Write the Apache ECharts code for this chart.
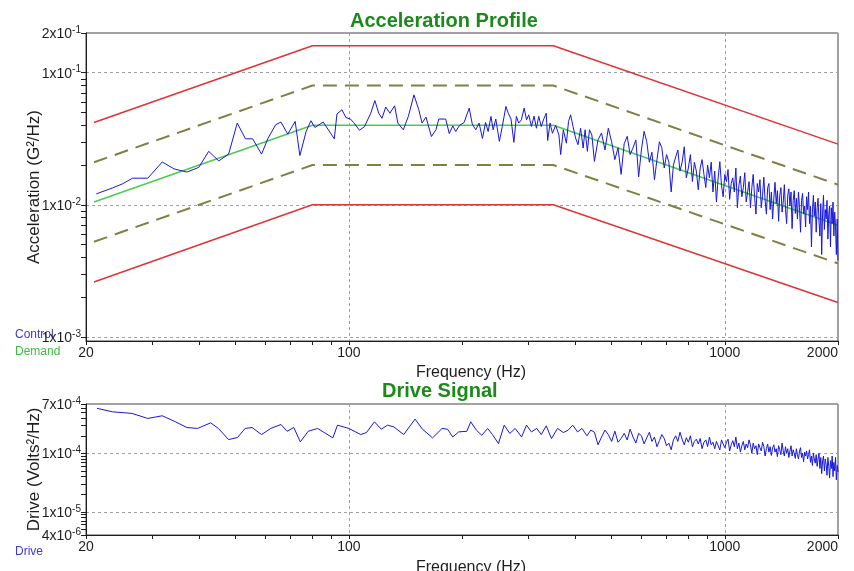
<!DOCTYPE html>
<html><head><meta charset="utf-8">
<script src="https://cdn.jsdelivr.net/npm/echarts@6.0.0/dist/echarts.min.js"></script>
<style>html,body{margin:0;padding:0;background:#fff}#c{width:854px;height:571px}</style>
</head><body><div id="c"></div>
<script>
// ---- profile breakpoints (Hz) and limit lines (G²/Hz) ----
const profileFreq = [21, 80, 350, 2000];
const demand      = [0.0105, 0.04, 0.04, 0.007];
const alarmHigh   = [0.021, 0.08, 0.08, 0.0142];
const alarmLow    = [0.00525, 0.02, 0.02, 0.0036];
const abortHigh   = [0.042, 0.16, 0.16, 0.0288];
const abortLow    = [0.0026, 0.01, 0.01, 0.00182];

// ---- control spectrum, low range ----
const controlFreqLow = [21.3,23.5,25.0,26.6,29.2,31.9,34.3,37.1,39.9,42.4,45.1,47.9,50.5,53.1,55.5,58.6,61.0,63.9,66.0,68.8,
  72.0,74.1,77.0,79.3,81.2,85.5,91.5,93.0,95.9,98.2,101,103,106.7,110,114.4,117.3,120.1,122.5,125.4,128.6,
  132.4,135,139.6,144,149,153.5,156.6,160.4,165.8,170.5,173.5,181,185,189,192.5,197,202.6,209,213,217.6,
  222,226.7,231,234.7,238.8,242,246,251.4,256,261.7,265.5,270,274.8,279,283,287.7,292.6,297,301,306,
  311,315.5,320,325,330,335,338,343,348,355,362,366,372,379,384,389,394.7,401,407,413.5,
  420,425,431,436.5,443];
const controlLow = [.0121,.0134,.0144,.0159,.0159,.0211,.0187,.0177,.0192,.0254,.0215,.0242,.0416,.0316,.0316,.0242,.032,.0404,.0423,.0343,
  .0428,.0236,.0359,.0433,.0385,.0423,.0316,.0487,.0525,.0458,.0446,.042,.0367,.039,.0494,.0616,.0494,.0452,.055,.0494,
  .0562,.0416,.037,.0467,.068,.0525,.0416,.0462,.0329,.037,.0446,.0446,.0346,.0396,.0359,.040,.042,.054,.0408,.037,
  .0416,.0318,.042,.0359,.0467,.037,.0446,.0302,.0392,.0556,.0494,.0446,.0297,.0467,.0416,.044,.054,.044,.048,.0392,
  .047,.038,.0467,.0392,.0446,.0494,.0307,.0416,.0348,.040,.0338,.024,.037,.0293,.0428,.048,.0392,.032,.0285,.038,
  .0269,.037,.0254,.037,.0338];

// ---- shared high-range frequency lines (Hz) ----
const freqHigh = [450,460,470,480,490,500,510,520,530,540,
  550,560,570,580,590,600,610,620,630,640,
  650,660,670,680,690,700,710,720,730,740,
  750,760,770,780,790,800,810,820,830,840,
  850,860,870,880,890,900,910,920,930,940,
  950,960,970,980,990,1000,1010,1020,1030,1040,
  1050,1060,1070,1080,1090,1100,1110,1120,1130,1140,
  1150,1160,1170,1180,1190,1200,1210,1220,1230,1240,
  1250,1260,1270,1280,1290,1300,1310,1320,1330,1340,
  1350,1360,1370,1380,1390,1400,1410,1420,1430,1440,
  1450,1460,1470,1480,1490,1500,1510,1520,1530,1540,
  1550,1560,1570,1580,1590,1600,1610,1620,1630,1640,
  1650,1660,1670,1680,1690,1700,1710,1720,1730,1740,
  1750,1760,1770,1780,1790,1800,1810,1820,1830,1840,
  1850,1860,1870,1880,1890,1900,1910,1920,1930,1940,
  1950,1960,1970,1980,1990,2000];
const controlHigh = [.0213,.031,.035,.026,.038,.030,.022,.027,.017,.029,
  .033,.024,.027,.031,.0163,.026,.036,.030,.021,.025,
  .0155,.022,.030,.027,.019,.024,.021,.0125,.020,.023,
  .026,.018,.021,.0275,.016,.019,.024,.015,.021,.018,
  .013,.019,.022,.017,.0135,.020,.016,.021,.0125,.018,
  .0105,.016,.0212,.014,.0115,.017,.015,.0185,.011,.0145,
  .016,.0125,.019,.0095,.014,.0165,.0115,.0135,.0175,.0105,
  .0125,.015,.0095,.0135,.017,.0115,.0085,.0145,.0125,.0155,
  .0095,.0118,.0162,.0108,.0085,.0135,.0145,.0092,.0125,.0078,
  .0112,.0148,.0102,.0128,.0075,.0118,.0135,.0088,.0105,.0142,
  .0092,.0072,.0118,.0132,.0098,.0125,.0066,.0108,.0128,.0086,
  .0112,.0078,.0125,.0095,.0062,.0108,.0122,.0085,.0098,.0068,
  .0115,.0092,.0125,.0072,.0098,.0048,.0088,.0118,.0082,.0105,
  .0062,.0095,.0112,.0075,.0058,.0102,.0042,.0088,.0118,.0065,
  .0092,.0078,.0108,.0055,.0085,.0098,.0048,.0095,.0072,.0105,
  .0058,.0088,.0068,.0042,.0078,.0038];

// ---- drive spectrum (Volts²/Hz) ----
const driveFreqLow = [21.4,23.5,26.5,29.2,31.9,34.6,37.1,39.6,42.9,45.0,47.9,50.6,53.0,55.3,58.6,62.0,66.0,68.5,71.4,74.3,
  78.0,82.6,85.5,90.7,93.3,100,107.6,111.4,117,122,126.8,131.7,140,150,157,167,177,183,189,196,
  206,211,218.5,225.8,234,241,250,259,268,277,288,297,306,316,325,335,346,359,372,383,
  394,406,417,430,440];
const driveLow = [5.9e-4,5.15e-4,4.83e-4,3.96e-4,4.4e-4,3.47e-4,2.77e-4,2.67e-4,3.33e-4,2.67e-4,1.72e-4,1.87e-4,2.67e-4,2.77e-4,2.10e-4,2.67e-4,3.12e-4,2.39e-4,2.77e-4,1.57e-4,
  2.39e-4,2.67e-4,2.33e-4,1.84e-4,3.04e-4,2.67e-4,2.10e-4,2.27e-4,3.47e-4,2.59e-4,3.04e-4,2.84e-4,2.10e-4,3.86e-4,2.59e-4,1.84e-4,2.67e-4,2.59e-4,1.91e-4,2.33e-4,
  2.39e-4,3.47e-4,2.49e-4,2.04e-4,2.67e-4,2.10e-4,1.47e-4,3.04e-4,2.19e-4,2.67e-4,1.91e-4,3.04e-4,2.33e-4,2.67e-4,2.10e-4,2.96e-4,1.79e-4,2.67e-4,2.27e-4,2.49e-4,
  3.04e-4,2.33e-4,2.67e-4,2.0e-4,2.5e-4];
const driveHigh = [2.3e-4,1.4e-4,1.9e-4,2.5e-4,2.1e-4,1.6e-4,2.4e-4,1.55e-4,1.8e-4,2.2e-4,
  1.7e-4,2.6e-4,1.9e-4,1.5e-4,2.2e-4,2.0e-4,1.45e-4,1.85e-4,2.3e-4,1.6e-4,
  1.9e-4,1.3e-4,1.65e-4,2.1e-4,1.8e-4,1.35e-4,1.5e-4,1.15e-4,1.7e-4,2.0e-4,
  1.6e-4,2.3e-4,1.75e-4,1.4e-4,1.85e-4,1.55e-4,2.0e-4,1.3e-4,1.6e-4,1.75e-4,
  1.45e-4,1.8e-4,1.2e-4,1.55e-4,1.7e-4,1.3e-4,1.9e-4,1.4e-4,1.55e-4,1.2e-4,
  1.6e-4,1.35e-4,1.15e-4,1.7e-4,1.45e-4,1.25e-4,1.55e-4,1.75e-4,1.1e-4,1.4e-4,
  1.65e-4,1.3e-4,1.9e-4,1.2e-4,1.5e-4,1.05e-4,1.35e-4,1.6e-4,1.15e-4,1.45e-4,
  1.25e-4,1.7e-4,1.4e-4,1.0e-4,1.5e-4,1.2e-4,1.35e-4,0.95e-4,1.45e-4,1.25e-4,
  1.1e-4,1.55e-4,1.3e-4,0.9e-4,1.2e-4,1.45e-4,1.05e-4,1.3e-4,0.92e-4,1.25e-4,
  1.4e-4,1.05e-4,1.2e-4,0.88e-4,1.35e-4,1.15e-4,0.95e-4,1.5e-4,1.1e-4,0.9e-4,
  1.3e-4,1.0e-4,1.2e-4,0.85e-4,1.1e-4,1.35e-4,0.9e-4,1.15e-4,1.0e-4,0.82e-4,
  1.2e-4,0.95e-4,0.8e-4,1.1e-4,1.25e-4,0.85e-4,1.0e-4,0.72e-4,1.05e-4,0.9e-4,
  1.1e-4,0.8e-4,0.95e-4,1.15e-4,0.7e-4,0.9e-4,0.62e-4,1.0e-4,0.8e-4,0.68e-4,
  0.95e-4,0.6e-4,0.8e-4,1.0e-4,0.55e-4,0.85e-4,0.45e-4,0.75e-4,0.9e-4,0.5e-4,
  0.8e-4,0.65e-4,0.42e-4,0.85e-4,0.6e-4,0.38e-4,0.75e-4,0.55e-4,0.9e-4,0.4e-4,
  0.7e-4,0.5e-4,0.85e-4,0.35e-4,0.62e-4,0.48e-4];

// ---- axis tick / label values ----
const xTickVals   = [20,30,40,50,60,70,80,90,100,200,300,400,500,600,700,800,900,1000,2000];
const yTopTicks   = [0.001,0.002,0.003,0.004,0.005,0.006,0.007,0.008,0.009,0.01,0.02,0.03,0.04,0.05,0.06,0.07,0.08,0.09,0.1,0.2];
const yTopLabels  = [0.001,0.01,0.1,0.2];
const yBotTicks   = [4e-6,5e-6,6e-6,7e-6,8e-6,9e-6,1e-5,2e-5,3e-5,4e-5,5e-5,6e-5,7e-5,8e-5,9e-5,1e-4,2e-4,3e-4,4e-4,5e-4,6e-4,7e-4];
const yBotLabels  = [4e-6,1e-5,1e-4,7e-4];

const zip = (a, b) => a.map((v, i) => [v, b[i]]);
const FONT = 'Liberation Sans, Arial, sans-serif';
const TXT = '#1e1e1e';

function sciLabel(labels) {
  return function (v) {
    if (!labels.some(l => Math.abs(Math.log10(l) - Math.log10(v)) < 1e-6)) return '';
    const e = Math.floor(Math.log10(v) + 1e-9);
    const m = Math.round(v / Math.pow(10, e));
    return '{b|' + m + 'x10}{s|' + e + '}';
  };
}
const rich = {
  b: { fontSize: 14, fontFamily: FONT, color: TXT, lineHeight: 16, verticalAlign: 'bottom' },
  s: { fontSize: 10, fontFamily: FONT, color: TXT, lineHeight: 14, verticalAlign: 'top', padding: [0, 0, 2, 0] }
};

function mainX(grid, gap) {
  return {
    gridIndex: grid, type: 'log', logBase: 10, min: 20, max: 2000, position: 'bottom',
    axisLine: { show: true, lineStyle: { color: TXT, width: 1 } },
    axisTick: { show: false },
    axisLabel: { fontSize: 14, fontFamily: FONT, color: TXT, margin: 5, alignMaxLabel: 'right',
      formatter: v => String(Math.round(v)) },
    splitLine: { show: true, lineStyle: { color: '#a0a0a0', type: [3, 3], width: 1 } },
    name: 'Frequency (Hz)', nameLocation: 'middle', nameGap: gap, nameMoveOverlap: false,
    nameTextStyle: { fontSize: 16, fontFamily: FONT, color: TXT, padding: [0, 0, 0, 18] }
  };
}
function tickX(grid) {
  return {
    gridIndex: grid, type: 'log', logBase: 10, min: 20, max: 2000, position: 'bottom',
    axisLine: { show: false }, axisLabel: { show: false }, splitLine: { show: false },
    axisTick: { show: true, inside: false, length: 4, customValues: xTickVals, lineStyle: { color: TXT } }
  };
}
function mainY(grid, min, max, labels, name) {
  return {
    gridIndex: grid, type: 'log', logBase: 10, min: min, max: max, position: 'left',
    axisLine: { show: true, lineStyle: { color: TXT, width: 1 } },
    axisTick: { show: false },
    axisLabel: { margin: 5, formatter: sciLabel(labels), rich: rich },
    splitLine: { show: true, lineStyle: { color: '#a0a0a0', type: [3, 3], width: 1 } },
    name: name, nameLocation: 'middle', nameGap: 43, nameMoveOverlap: false,
    nameTextStyle: { fontSize: 17, fontFamily: FONT, color: TXT }
  };
}
function tickY(grid, min, max, ticks) {
  return {
    gridIndex: grid, type: 'log', logBase: 10, min: min, max: max, position: 'left', offset: 0,
    axisLine: { show: false }, axisLabel: { show: false }, splitLine: { show: false },
    axisTick: { show: true, inside: false, length: 5, customValues: ticks, lineStyle: { color: TXT } }
  };
}
function lineSeries(name, data, color, width, type, xi, yi, z) {
  return {
    name: name, type: 'line', xAxisIndex: xi, yAxisIndex: yi, data: data,
    symbol: 'none', showSymbol: false, smooth: false, z: z, silent: true,
    lineStyle: { color: color, width: width, type: type }
  };
}

const chart = echarts.init(document.getElementById('c'), null, { renderer: 'canvas' });
chart.setOption({
  animation: false,
  backgroundColor: '#ffffff',
  title: [
    { text: 'Acceleration Profile', left: 350, top: 11, padding: 0,
      textStyle: { fontSize: 20, fontWeight: 'bold', color: '#1b8a1b', fontFamily: FONT } },
    { text: 'Drive Signal', left: 382, top: 381, padding: 0,
      textStyle: { fontSize: 20, fontWeight: 'bold', color: '#1b8a1b', fontFamily: FONT } }
  ],
  grid: [
    { left: 86, top: 33, width: 752, height: 308, show: true, borderColor: '#444', borderWidth: 1,
      containLabel: false, outerBoundsMode: 'none' },
    { left: 86, top: 404, width: 752, height: 131, show: true, borderColor: '#444', borderWidth: 1,
      containLabel: false, outerBoundsMode: 'none' }
  ],
  xAxis: [mainX(0, 24), tickX(0), mainX(1, 25), tickX(1)],
  yAxis: [
    mainY(0, 0.00093, 0.2, yTopLabels, 'Acceleration (G²/Hz)'),
    tickY(0, 0.00093, 0.2, yTopTicks),
    mainY(1, 4e-6, 7e-4, yBotLabels, 'Drive (Volts²/Hz)'),
    tickY(1, 4e-6, 7e-4, yBotTicks)
  ],
  series: [
    lineSeries('Abort High', zip(profileFreq, abortHigh), '#e03434', 1.5, 'solid', 0, 0, 2),
    lineSeries('Abort Low', zip(profileFreq, abortLow), '#e03434', 1.5, 'solid', 0, 0, 2),
    lineSeries('Alarm High', zip(profileFreq, alarmHigh), '#808044', 2, [14, 8], 0, 0, 2),
    lineSeries('Alarm Low', zip(profileFreq, alarmLow), '#808044', 2, [14, 8], 0, 0, 2),
    lineSeries('Demand', zip(profileFreq, demand), '#4ccc4c', 1.5, 'solid', 0, 0, 3),
    lineSeries('Control', zip(controlFreqLow, controlLow).concat(zip(freqHigh, controlHigh)), '#1818dc', 1, 'solid', 0, 0, 4),
    lineSeries('Drive', zip(driveFreqLow, driveLow).concat(zip(freqHigh, driveHigh)), '#1818dc', 1, 'solid', 2, 2, 4)
  ],
  graphic: [
    { type: 'text', left: 15, top: 329, style: { text: 'Control', fill: '#3c3cc8', font: '12px ' + FONT } },
    { type: 'text', left: 15, top: 346, style: { text: 'Demand', fill: '#3cbf3c', font: '12px ' + FONT } },
    { type: 'text', left: 15, top: 546, style: { text: 'Drive', fill: '#3c3cc8', font: '12px ' + FONT } }
  ]
});
</script></body></html>
